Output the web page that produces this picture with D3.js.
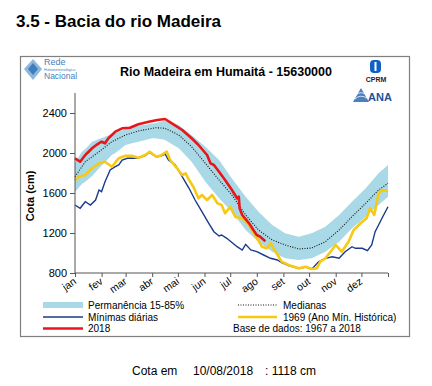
<!DOCTYPE html>
<html>
<head>
<meta charset="utf-8">
<script src="https://d3js.org/d3.v7.min.js"></script>
<style>
  body { margin: 0; background: white; }
  text { font-family: "Liberation Sans", Arial, sans-serif; }
</style>
</head>
<body>
<svg id="chart" width="432" height="386"></svg>
<script>
// months and tick days
const months = ["jan","fev","mar","abr","mai","jun","jul","ago","set","out","nov","dez"];
const monthStarts = [0,31,59,90,120,151,181,212,243,273,304,334,365];
const yTicks = [800,1200,1600,2000,2400];

// permanencia 15-85% band
const bandDays  = [0,8,12,20,28,35,43,47,59,63,74,75,90,93,103,105,121,136,152,168,183,199,214,230,245,261,276,292,308,323,339,354,365];
const bandUpper = [1900,2013,2040,2113,2140,2163,2190,2200,2240,2250,2272,2273,2295,2297,2320,2322,2280,2180,2063,1930,1745,1563,1413,1280,1197,1163,1197,1263,1380,1513,1647,1797,1880];
const bandLower = [1610,1690,1713,1770,1847,1910,1980,2000,2080,2090,2113,2114,2147,2148,2135,2130,2047,1913,1713,1547,1413,1230,1113,1013,947,930,947,1013,1113,1247,1363,1480,1563];

// medianas
const medDays = [0,12,28,43,59,74,94,105,121,136,152,168,183,199,214,230,245,261,276,292,308,323,339,354,365];
const medVals = [1763,1913,2013,2113,2180,2220,2253,2247,2180,2063,1897,1730,1580,1380,1230,1130,1080,1040,1050,1113,1230,1363,1497,1630,1697];

// minimas diarias
const minDays = [0,6,12,18,24,28,31,35,41,47,51,55,61,68,74,82,87,95,100,105,109,117,125,133,140,148,156,162,168,171,177,183,189,195,199,205,212,220,228,236,241,249,261,269,276,284,292,300,308,315,323,327,335,341,346,350,354,358,365];
const minVals = [1480,1447,1513,1480,1530,1630,1613,1713,1830,1863,1880,1930,1947,1947,1950,1975,2005,1960,1970,1990,1930,1880,1763,1647,1530,1413,1297,1213,1170,1180,1147,1105,1063,1030,1087,1030,1013,980,947,930,905,875,845,860,838,913,947,963,947,1013,1063,1047,1047,1023,1080,1213,1280,1347,1463];

// 1969 (ano min. historica)
const y1969Days = [0,4,12,20,28,35,43,51,59,66,74,82,87,95,100,107,111,119,125,129,133,138,144,148,154,160,166,171,175,181,187,195,203,210,218,224,228,234,241,249,261,269,276,282,286,292,298,304,311,319,325,333,340,344,349,354,358,365];
const y1969Vals = [1730,1763,1780,1847,1897,1913,1863,1947,1973,1973,1953,1980,2013,1963,1975,2013,1930,1847,1780,1797,1730,1663,1547,1580,1530,1580,1497,1480,1397,1463,1360,1347,1280,1180,1063,1047,1097,1013,913,880,847,863,840,847,913,947,1013,1080,1013,1113,1230,1297,1347,1447,1380,1597,1630,1620];

// 2018
const y2018Days = [0,6,12,20,26,31,35,39,47,55,64,74,86,96,105,113,125,136,144,154,158,162,168,175,183,189,191,192,195,203,208,212,216,222];
const y2018Vals = [1947,1913,1980,2047,2087,2113,2097,2147,2213,2247,2253,2287,2313,2330,2340,2297,2230,2147,2080,1980,1897,1880,1813,1730,1630,1547,1563,1447,1380,1297,1230,1180,1163,1118];

const svg = d3.select("#chart");

svg.append("text").attr("x", 16).attr("y", 27)
  .attr("font-size", 17).attr("font-weight", "bold").text("3.5 - Bacia do rio Madeira");

svg.append("rect").attr("x", 20.5).attr("y", 56.5).attr("width", 389).attr("height", 280)
  .attr("fill", "white").attr("stroke", "#7f7f7f").attr("stroke-width", 1.2);

const x = d3.scaleLinear().domain([0, 365]).range([75, 388]);
const y = d3.scaleLinear().domain([800, 2600]).range([273, 93]);

const zip = (ds, vs) => ds.map((d, i) => ({d: d, v: vs[i]}));

// band
const area = d3.area().x(p => x(p.d)).y0(p => y(p.lo)).y1(p => y(p.hi));
svg.append("path").datum(bandDays.map((d, i) => ({d: d, hi: bandUpper[i], lo: bandLower[i]})))
  .attr("fill", "#a9d9e6").attr("d", area);

const line = d3.line().x(p => x(p.d)).y(p => y(p.v));

svg.append("path").datum(zip(medDays, medVals))
  .attr("fill", "none").attr("stroke", "#111").attr("stroke-width", 1.1)
  .attr("stroke-dasharray", "1,1.5").attr("d", line);

svg.append("path").datum(zip(minDays, minVals))
  .attr("fill", "none").attr("stroke", "#1a3a8c").attr("stroke-width", 1.4).attr("d", line);

svg.append("path").datum(zip(y1969Days, y1969Vals))
  .attr("fill", "none").attr("stroke", "#f7c913").attr("stroke-width", 2.6)
  .attr("stroke-linejoin", "round").attr("d", line);

svg.append("path").datum(zip(y2018Days, y2018Vals))
  .attr("fill", "none").attr("stroke", "#e8161b").attr("stroke-width", 2.6)
  .attr("stroke-linejoin", "round").attr("d", line);

// axes
const yAxis = svg.append("g").attr("transform", "translate(75,0)")
  .call(d3.axisLeft(y).tickValues(yTicks).tickSize(5).tickPadding(3).tickFormat(d3.format("d")));
yAxis.select(".domain").attr("stroke", "#555").attr("d", "M0,93V273");
yAxis.selectAll(".tick line").attr("stroke", "#555");
yAxis.selectAll("text").attr("font-size", 11).attr("font-family", "Liberation Sans, Arial").attr("fill", "#000");

const xAxis = svg.append("g").attr("transform", "translate(0,273)")
  .call(d3.axisBottom(x).tickValues(monthStarts).tickSize(4).tickFormat(""));
xAxis.select(".domain").attr("stroke", "#555").attr("d", "M75,0H388");
xAxis.selectAll(".tick line").attr("stroke", "#555");

svg.append("g").selectAll("text").data(months).join("text")
  .attr("transform", (m, i) => "translate(" + (x(monthStarts[i]) + 2) + ",283) rotate(-35)")
  .attr("text-anchor", "end").attr("font-size", 10.5).text(m => m);

svg.append("text").attr("transform", "translate(34,196) rotate(-90)")
  .attr("text-anchor", "middle").attr("font-size", 11).attr("font-weight", "bold").text("Cota (cm)");

svg.append("text").attr("x", 226).attr("y", 76).attr("text-anchor", "middle")
  .attr("font-size", 12.5).attr("font-weight", "bold").text("Rio Madeira em Humaitá - 15630000");

// logos
const rede = svg.append("g");
rede.append("path").attr("d", "M24,69 L33,59 L42,69 L33,80 Z").attr("fill", "#8db8dc");
rede.append("path").attr("d", "M28,69 L33,63 L38,69 L33,75 Z").attr("fill", "#3f7dbd");
rede.append("text").attr("x", 44).attr("y", 65).attr("font-size", 9).attr("fill", "#4a80bd").text("Rede");
rede.append("text").attr("x", 44).attr("y", 71).attr("font-size", 3.6).attr("fill", "#4a80bd").text("Hidrometeorológica");
rede.append("text").attr("x", 44).attr("y", 79).attr("font-size", 8.5).attr("fill", "#4a80bd").text("Nacional");

const cprm = svg.append("g");
cprm.append("rect").attr("x", 370).attr("y", 60).attr("width", 11).attr("height", 13).attr("rx", 4).attr("fill", "#0f62c4");
cprm.append("rect").attr("x", 374.5).attr("y", 62).attr("width", 2).attr("height", 9).attr("fill", "white");
cprm.append("text").attr("x", 376).attr("y", 82).attr("text-anchor", "middle").attr("font-size", 7)
  .attr("font-weight", "bold").attr("fill", "#222").text("CPRM");

const ana = svg.append("g");
ana.append("path").attr("d", "M353,102 L361,88 L369,102 Z").attr("fill", "#4a7fc0");
ana.append("path").attr("d", "M355,99 Q360,94 367,98 M356,95 Q360,91 365,94").attr("stroke", "white").attr("fill", "none").attr("stroke-width", 0.8);
ana.append("text").attr("x", 368).attr("y", 101).attr("font-size", 11).attr("font-weight", "bold")
  .attr("fill", "#1d4f9c").text("ANA");

// legend
const lg = svg.append("g").attr("font-size", 10);
lg.append("rect").attr("x", 43).attr("y", 302).attr("width", 40).attr("height", 6).attr("fill", "#a9d9e6");
lg.append("text").attr("x", 88).attr("y", 309).text("Permanência 15-85%");
lg.append("line").attr("x1", 43).attr("x2", 83).attr("y1", 317).attr("y2", 317).attr("stroke", "#1a3a8c").attr("stroke-width", 1.4);
lg.append("text").attr("x", 88).attr("y", 321).text("Mínimas diárias");
lg.append("line").attr("x1", 43).attr("x2", 83).attr("y1", 328.5).attr("y2", 328.5).attr("stroke", "#e8161b").attr("stroke-width", 2.6);
lg.append("text").attr("x", 88).attr("y", 332).text("2018");
lg.append("line").attr("x1", 238).attr("x2", 277).attr("y1", 305).attr("y2", 305).attr("stroke", "#111").attr("stroke-dasharray", "1,1.5");
lg.append("text").attr("x", 283).attr("y", 309).text("Medianas");
lg.append("line").attr("x1", 238).attr("x2", 277).attr("y1", 317).attr("y2", 317).attr("stroke", "#f7c913").attr("stroke-width", 2.6);
lg.append("text").attr("x", 283).attr("y", 321).text("1969 (Ano Mín. Histórica)");
lg.append("text").attr("x", 233).attr("y", 332).text("Base de dados: 1967 a 2018");

// bottom
const bt = svg.append("g").attr("font-size", 12);
bt.append("text").attr("x", 132).attr("y", 375).text("Cota em");
bt.append("text").attr("x", 193).attr("y", 375).text("10/08/2018");
bt.append("text").attr("x", 265).attr("y", 375).text(": 1118 cm");
</script>
</body>
</html>
